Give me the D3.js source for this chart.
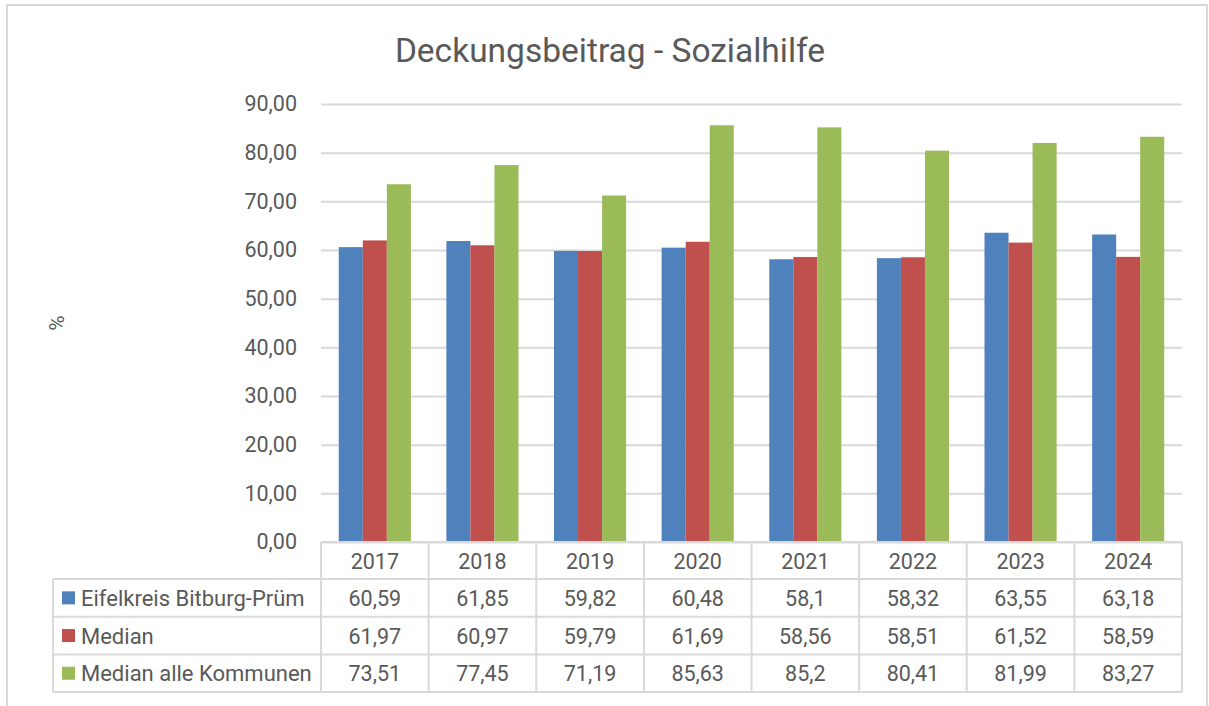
<!DOCTYPE html>
<html>
<head>
<meta charset="utf-8">
<script src="https://cdn.jsdelivr.net/npm/d3@7"></script>
<style>
  body { margin: 0; background: #fff; }
  svg text { font-family: Roboto, "Open Sans", sans-serif; fill: #595959; }
</style>
</head>
<body>
<svg id="chart" width="1209" height="706"></svg>
<script>
// data
var years = ["2017", "2018", "2019", "2020", "2021", "2022", "2023", "2024"];
var seriesNames = ["Eifelkreis Bitburg-Prüm", "Median", "Median alle Kommunen"];
var seriesColors = ["#4f81bd", "#c0504d", "#9bbb59"];
var eifelkreis = [60.59, 61.85, 59.82, 60.48, 58.1, 58.32, 63.55, 63.18];
var median = [61.97, 60.97, 59.79, 61.69, 58.56, 58.51, 61.52, 58.59];
var medianAlle = [73.51, 77.45, 71.19, 85.63, 85.2, 80.41, 81.99, 83.27];
var yTicks = [0, 10, 20, 30, 40, 50, 60, 70, 80, 90];

var series = [eifelkreis, median, medianAlle];

var svg = d3.select("#chart");
var fmt = d3.formatLocale({decimal: ",", thousands: ".", grouping: [3], currency: ["", "€"]}).format(",.2f");
function tableFmt(v) { return String(v).replace(".", ","); }

var plotLeft = 321, plotRight = 1182, plotTop = 104, plotBottom = 542;
var gridColor = "#d9d9d9";

// outer chart border
svg.append("rect")
  .attr("x", 7).attr("y", 5).attr("width", 1200).attr("height", 710)
  .attr("fill", "none").attr("stroke", gridColor).attr("stroke-width", 2);

// title
svg.append("text")
  .attr("x", 610).attr("y", 62)
  .attr("text-anchor", "middle")
  .style("font-size", "33.5px")
  .text("Deckungsbeitrag - Sozialhilfe");

var y = d3.scaleLinear().domain([0, 90]).range([plotBottom, plotTop]);
var x = d3.scaleBand().domain(years).range([plotLeft, plotRight]).padding(0);
var catW = x.bandwidth();
var xInner = d3.scaleBand().domain([0, 1, 2])
  .range([catW * 0.165, catW * 0.835]).padding(0);

// gridlines + y axis labels
var yAxis = d3.axisLeft(y).tickValues(yTicks).tickFormat(fmt)
  .tickSize(-(plotRight - plotLeft)).tickPadding(24);
var gy = svg.append("g").attr("transform", "translate(" + plotLeft + ",0)").call(yAxis);
gy.select(".domain").remove();
gy.selectAll(".tick line").attr("stroke", gridColor).attr("stroke-width", 2);
gy.selectAll(".tick text").style("font-size", "21.5px").attr("fill", "#595959");

// axis title
svg.append("text")
  .attr("transform", "translate(64,323) rotate(-90)")
  .attr("text-anchor", "middle")
  .style("font-size", "21px")
  .text("%");

// bars
series.forEach(function(vals, si) {
  svg.append("g").selectAll("rect")
    .data(vals)
    .join("rect")
    .attr("x", function(d, i) { return x(years[i]) + xInner(si); })
    .attr("width", xInner.bandwidth())
    .attr("y", function(d) { return y(d); })
    .attr("height", function(d) { return y(0) - y(d); })
    .attr("fill", seriesColors[si]);
});

// data table
var headerBottom = 579, rowH = 37.7;
var legendLeft = 53;
var table = svg.append("g");
var lineAttrs = function(sel) { return sel.attr("stroke", gridColor).attr("stroke-width", 2); };

// header row box
lineAttrs(table.append("line").attr("x1", plotLeft).attr("x2", plotRight).attr("y1", plotBottom).attr("y2", plotBottom));
// row separators
for (var r = 0; r <= 3; r++) {
  var yy = headerBottom + r * rowH;
  lineAttrs(table.append("line").attr("x1", legendLeft).attr("x2", plotRight).attr("y1", yy).attr("y2", yy));
}
// vertical lines
lineAttrs(table.append("line").attr("x1", legendLeft).attr("x2", legendLeft).attr("y1", headerBottom).attr("y2", headerBottom + 3 * rowH));
years.concat(["end"]).forEach(function(yr, i) {
  var xx = i < years.length ? x(yr) : plotRight;
  lineAttrs(table.append("line").attr("x1", xx).attr("x2", xx).attr("y1", plotBottom).attr("y2", headerBottom + 3 * rowH));
});

// header labels
table.selectAll("text.year")
  .data(years)
  .join("text")
  .attr("class", "year")
  .attr("x", function(d) { return x(d) + catW / 2; })
  .attr("y", (plotBottom + headerBottom) / 2 + 8)
  .attr("text-anchor", "middle")
  .style("font-size", "21.5px")
  .text(function(d) { return d; });

// rows
series.forEach(function(vals, si) {
  var cy = headerBottom + si * rowH + rowH / 2;
  table.append("rect")
    .attr("x", 62).attr("y", cy - 6.5).attr("width", 13).attr("height", 13)
    .attr("fill", seriesColors[si]);
  table.append("text")
    .attr("x", 81).attr("y", cy + 8)
    .style("font-size", "22px")
    .text(seriesNames[si]);
  table.append("g").selectAll("text")
    .data(vals)
    .join("text")
    .attr("x", function(d, i) { return x(years[i]) + catW / 2; })
    .attr("y", cy + 8)
    .attr("text-anchor", "middle")
    .style("font-size", "21.5px")
    .text(tableFmt);
});
</script>
</body>
</html>
